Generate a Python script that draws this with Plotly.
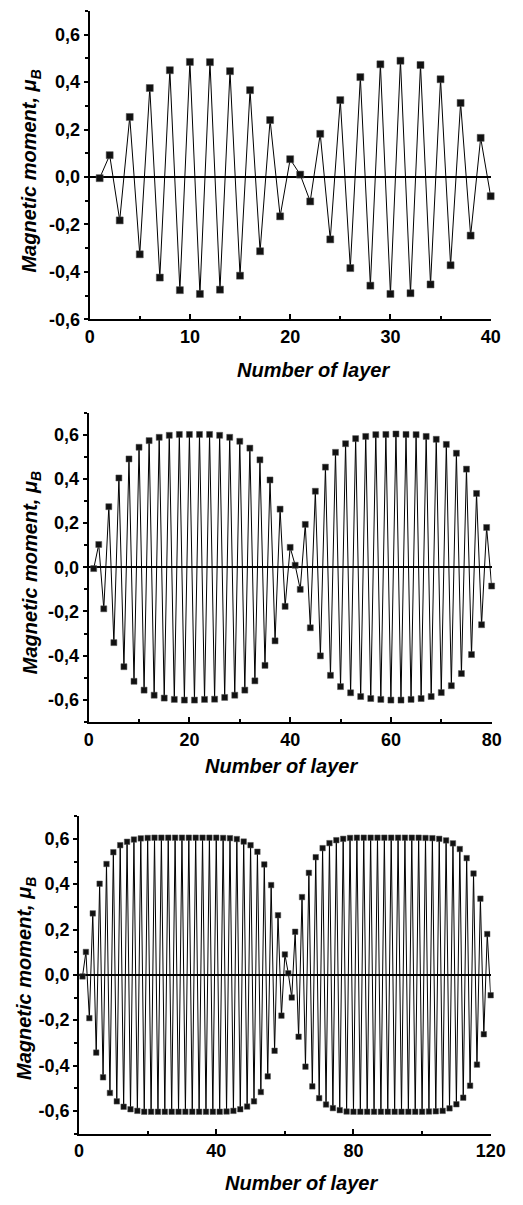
import plotly.graph_objects as go

# ---------------- data ----------------
layers_40 = list(range(1, 41))
moment_40 = [-0.005, 0.092, -0.183, 0.253, -0.326, 0.375, -0.424, 0.450, -0.477, 0.485,
             -0.493, 0.484, -0.475, 0.446, -0.416, 0.366, -0.313, 0.240, -0.166, 0.075,
             0.010, -0.103, 0.182, -0.263, 0.324, -0.384, 0.421, -0.458, 0.475, -0.493,
             0.490, -0.490, 0.472, -0.453, 0.412, -0.372, 0.312, -0.247, 0.165, -0.081]

layers_80 = list(range(1, 81))
moment_80 = [-0.006, 0.103, -0.188, 0.274, -0.341, 0.404, -0.450, 0.490, -0.516, 0.543,
             -0.556, 0.573, -0.579, 0.588, -0.592, 0.597, -0.598, 0.601, -0.601, 0.601,
             -0.601, 0.601, -0.598, 0.601, -0.597, 0.597, -0.589, 0.588, -0.579, 0.570,
             -0.556, 0.539, -0.514, 0.486, -0.444, 0.395, -0.333, 0.263, -0.177, 0.090,
             0.009, -0.100, 0.194, -0.274, 0.344, -0.401, 0.453, -0.489, 0.520, -0.540,
             0.559, -0.568, 0.582, -0.585, 0.592, -0.594, 0.600, -0.598, 0.601, -0.601,
             0.603, -0.601, 0.601, -0.598, 0.600, -0.594, 0.592, -0.585, 0.579, -0.567,
             0.556, -0.536, 0.516, -0.481, 0.444, -0.395, 0.334, -0.260, 0.180, -0.085]

layers_120 = list(range(1, 121))
moment_120 = [-0.007, 0.101, -0.191, 0.271, -0.343, 0.402, -0.452, 0.489, -0.521, 0.541,
              -0.558, 0.572, -0.582, 0.587, -0.593, 0.597, -0.600, 0.602, -0.604, 0.604,
              -0.604, 0.605, -0.604, 0.605, -0.604, 0.605, -0.604, 0.605, -0.604, 0.605,
              -0.604, 0.605, -0.604, 0.605, -0.604, 0.605, -0.604, 0.605, -0.604, 0.605,
              -0.604, 0.604, -0.603, 0.603, -0.600, 0.599, -0.593, 0.588, -0.581, 0.572,
              -0.558, 0.543, -0.517, 0.487, -0.448, 0.396, -0.335, 0.263, -0.180, 0.090,
              0.007, -0.100, 0.190, -0.273, 0.343, -0.405, 0.450, -0.492, 0.519, -0.544,
              0.559, -0.572, 0.581, -0.588, 0.594, -0.597, 0.600, -0.603, 0.604, -0.604,
              0.605, -0.604, 0.605, -0.604, 0.605, -0.604, 0.605, -0.604, 0.605, -0.604,
              0.605, -0.604, 0.605, -0.604, 0.605, -0.604, 0.605, -0.604, 0.605, -0.604,
              0.604, -0.603, 0.603, -0.602, 0.600, -0.600, 0.593, -0.589, 0.580, -0.571,
              0.555, -0.542, 0.515, -0.489, 0.447, -0.396, 0.336, -0.262, 0.180, -0.090]

y_tickvals = [-0.6, -0.4, -0.2, 0.0, 0.2, 0.4, 0.6]
y_ticktext = ["-0,6", "-0,4", "-0,2", "0,0", "0,2", "0,4", "0,6"]

x_ticks_1 = [0, 10, 20, 30, 40]
x_ticks_2 = [0, 20, 40, 60, 80]
x_ticks_3 = [0, 40, 80, 120]

x_title = "Number of layer"
y_title = "Magnetic moment, μ<sub>B</sub>"

# ---------------- layout geometry (pixels) ----------------
W, H = 523, 1205
FONT = "Liberation Sans, Arial, sans-serif"

panels = [
    dict(x=layers_40, y=moment_40, px=(88, 505), py=(11, 322), yr=[-0.6, 0.7],
         xr=[0, 40], xt=x_ticks_1, xminor=5, ms=7, xtitle=(321, 373), ytitle=(27, 172)),
    dict(x=layers_80, y=moment_80, px=(87, 506), py=(416, 728), yr=[-0.7, 0.7],
         xr=[0, 80], xt=x_ticks_2, xminor=10, ms=6, xtitle=(287, 772), ytitle=(27, 577)),
    dict(x=layers_120, y=moment_120, px=(77, 505), py=(823, 1143), yr=[-0.7, 0.7],
         xr=[0, 120], xt=x_ticks_3, xminor=20, ms=5.5, xtitle=(308, 1193), ytitle=(22, 987)),
]

fig = go.Figure()
layout = dict(width=W, height=H, margin=dict(l=0, r=0, t=0, b=0),
              paper_bgcolor="white", plot_bgcolor="white", showlegend=False,
              font=dict(family=FONT, color="black"))
annotations = []

title_font = dict(family=FONT, size=20, weight="bold", style="italic", color="black")
tick_font = dict(family=FONT, size=18, weight="bold", color="black")

for i, p in enumerate(panels, start=1):
    xa = "x" if i == 1 else f"x{i}"
    ya = "y" if i == 1 else f"y{i}"
    fig.add_trace(go.Scatter(
        x=p["x"], y=p["y"], xaxis=xa, yaxis=ya, mode="lines+markers",
        line=dict(color="black", width=1),
        marker=dict(symbol="square", size=p["ms"], color="#111111",
                    line=dict(color="#555555", width=0.5)),
        cliponaxis=False,
    ))
    xdom = [p["px"][0] / W, p["px"][1] / W]
    ydom = [1 - p["py"][1] / H, 1 - p["py"][0] / H]
    layout["xaxis" if i == 1 else f"xaxis{i}"] = dict(
        domain=xdom, range=p["xr"], anchor=ya, showgrid=False, zeroline=False,
        showline=True, linecolor="black", linewidth=2,
        tickvals=p["xt"], ticktext=[str(v) for v in p["xt"]],
        ticks="inside", ticklen=5, tickwidth=2, tickcolor="black",
        minor=dict(dtick=p["xminor"], tick0=0, ticks="inside", ticklen=3,
                   tickwidth=2, tickcolor="black"),
        tickfont=tick_font,
    )
    layout["yaxis" if i == 1 else f"yaxis{i}"] = dict(
        domain=ydom, range=p["yr"], anchor=xa, showgrid=False,
        zeroline=True, zerolinecolor="black", zerolinewidth=2,
        showline=True, linecolor="black", linewidth=2,
        tickvals=y_tickvals, ticktext=y_ticktext,
        ticks="outside", ticklen=4, tickwidth=2, tickcolor="black",
        minor=dict(dtick=0.1, tick0=0, ticks="outside", ticklen=3,
                   tickwidth=2, tickcolor="black"),
        tickfont=tick_font,
    )
    annotations.append(dict(
        text=x_title, x=p["xtitle"][0] / W, y=1 - p["xtitle"][1] / H,
        xref="paper", yref="paper", showarrow=False, xanchor="center", yanchor="middle",
        font=title_font))
    annotations.append(dict(
        text=y_title, x=p["ytitle"][0] / W, y=1 - p["ytitle"][1] / H,
        xref="paper", yref="paper", showarrow=False, xanchor="center", yanchor="middle",
        textangle=-90, font=title_font))

layout["annotations"] = annotations
fig.update_layout(**layout)
fig.write_html("out.html")
